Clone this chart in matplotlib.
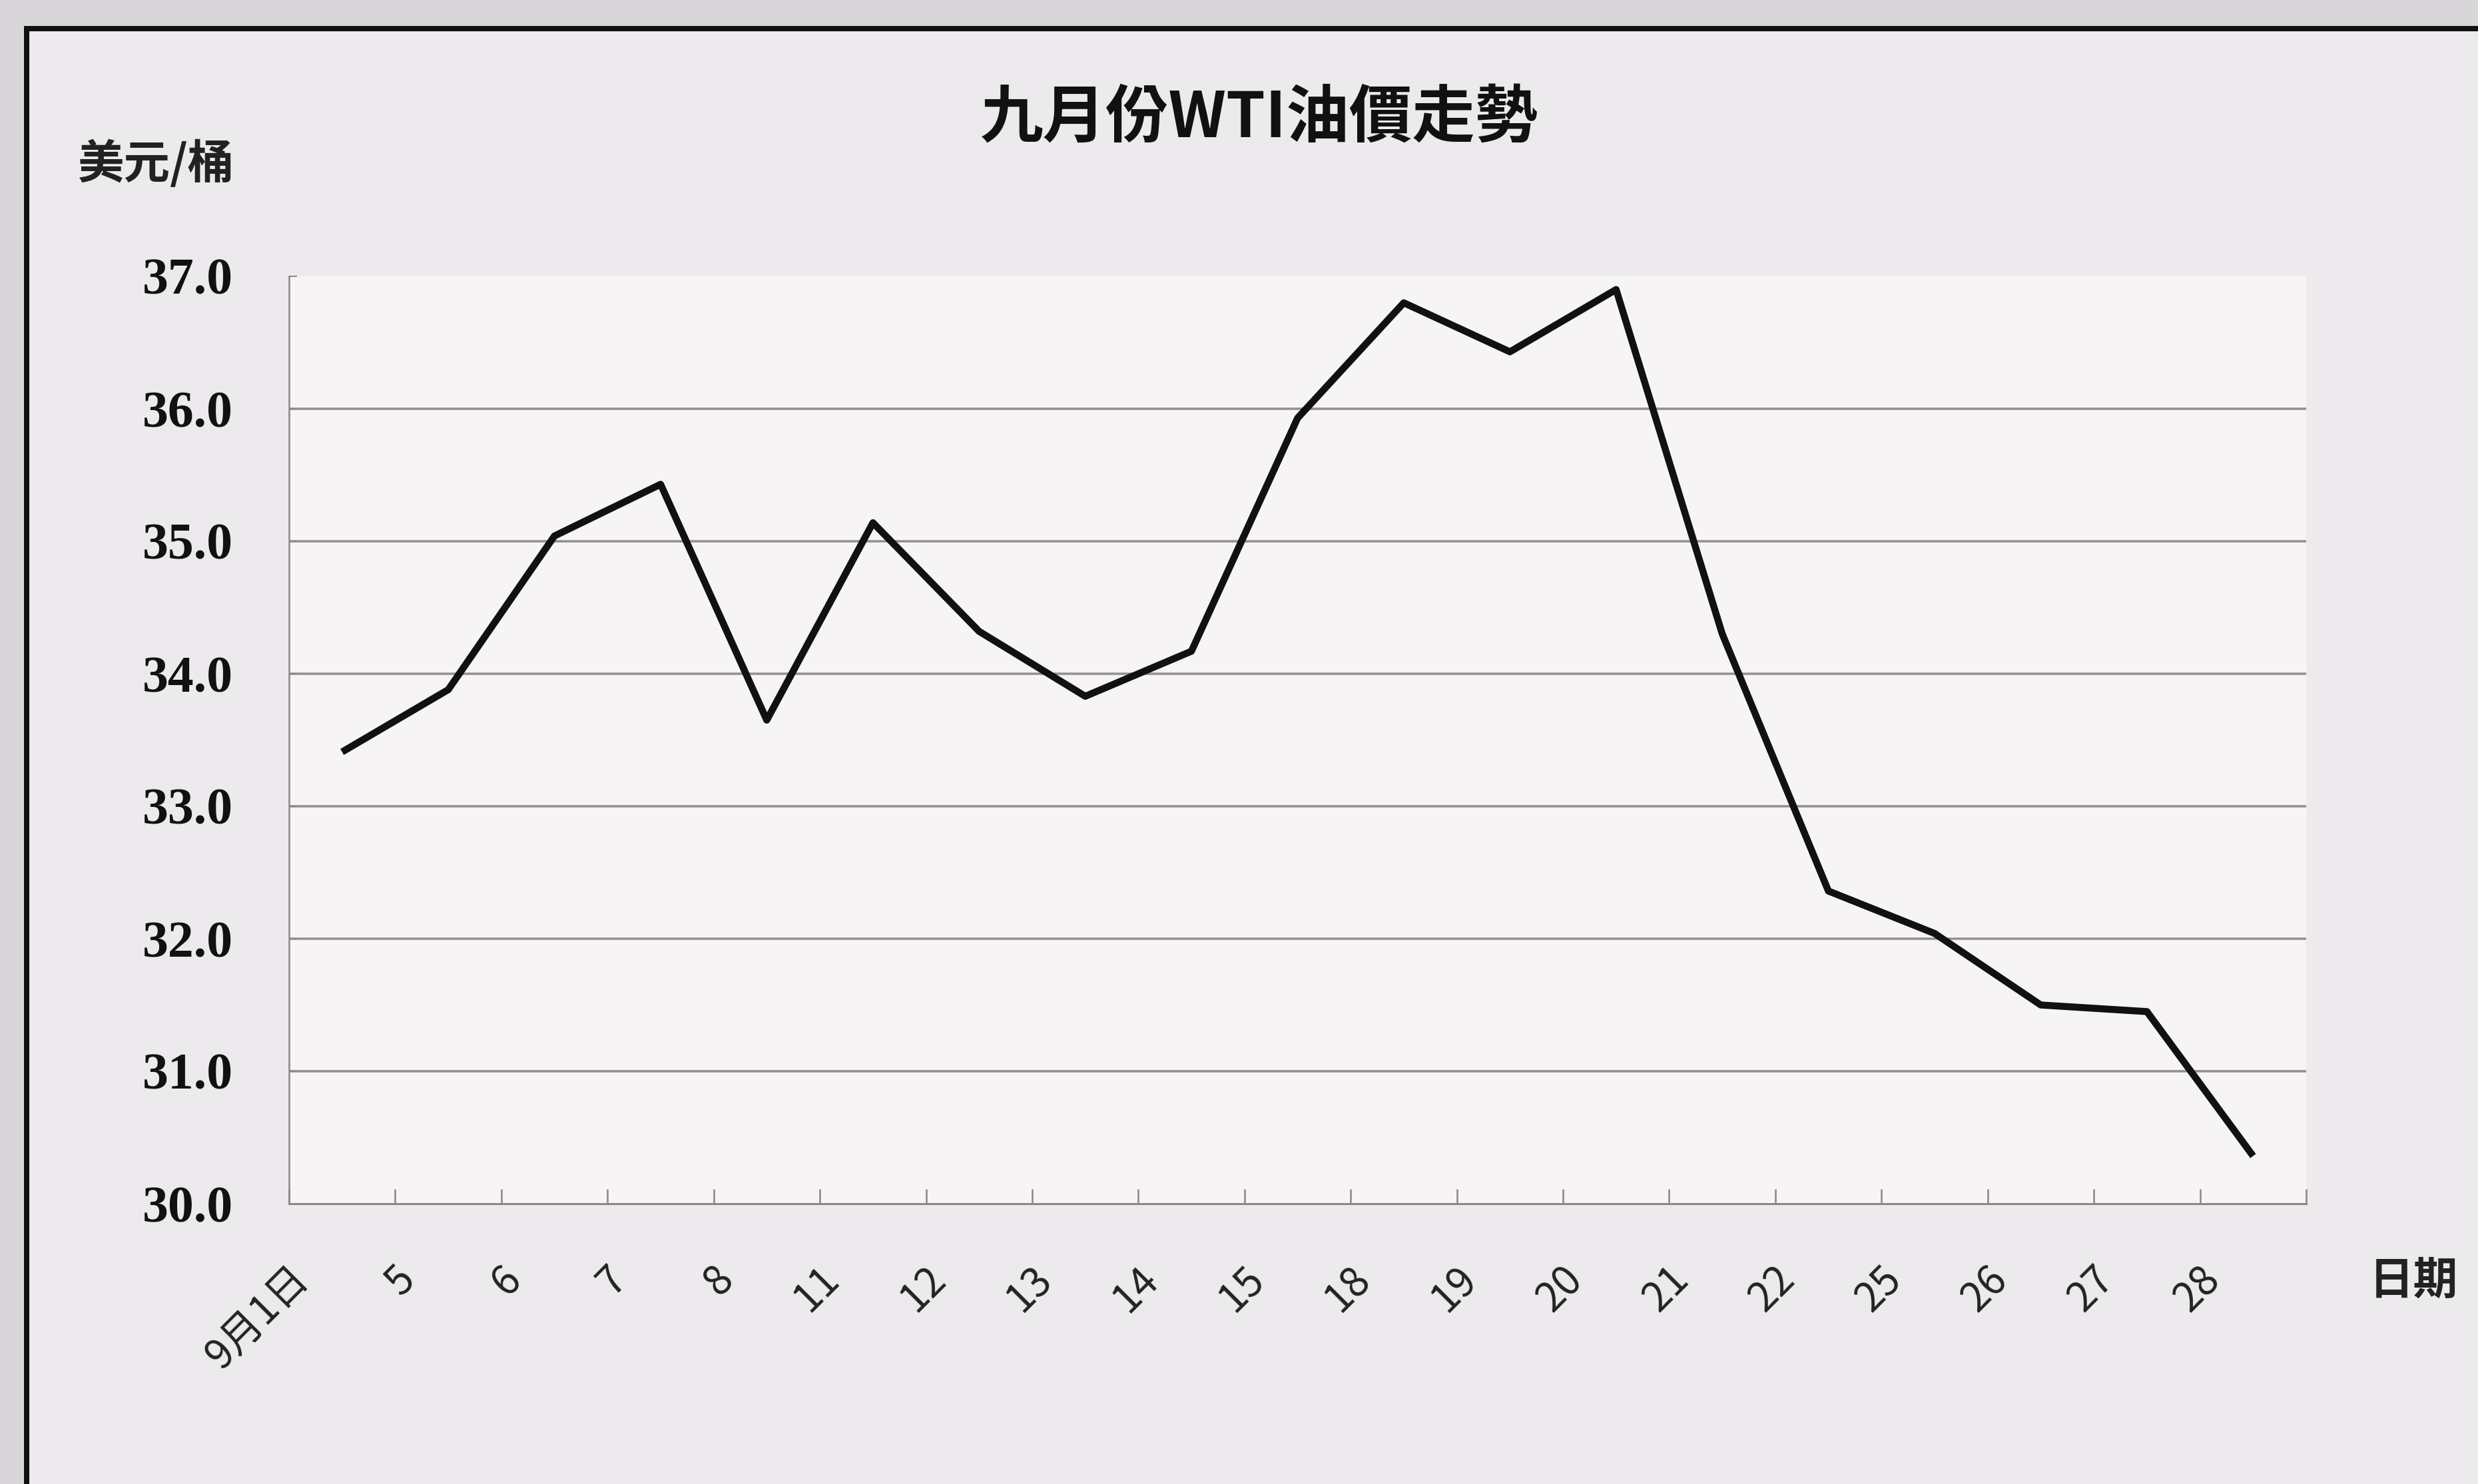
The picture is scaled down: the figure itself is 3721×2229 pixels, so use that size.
"""九月份WTI油價走勢 — line chart recreated from a scanned Excel figure."""

import matplotlib
matplotlib.use("Agg")
import matplotlib.pyplot as plt
import matplotlib.transforms as mtransforms
from matplotlib.patches import Rectangle

# ── data ──────────────────────────────────────────────────────────────────────
DATES = ["9月1日", "5", "6", "7", "8", "11", "12", "13", "14", "15",
         "18", "19", "20", "21", "22", "25", "26", "27", "28"]
PRICES = [33.41, 33.88, 35.04, 35.43, 33.65, 35.14, 34.32, 33.83, 34.17, 35.93,
          36.80, 36.43, 36.90, 34.30, 32.36, 32.04, 31.50, 31.45, 30.36]
Y_TICKS = [30, 31, 32, 33, 34, 35, 36, 37]

TITLE = "九月份WTI油價走勢"
Y_UNIT = "美元/桶"
X_UNIT = "日期"

# ── style ─────────────────────────────────────────────────────────────────────
C_OUTER = "#d8d6d9"
C_PAPER = "#eceaec"
C_PLOT  = "#f6f4f4"
C_AXIS  = "#8a8587"
C_GRID  = "#948e90"
C_INK   = "#111111"

CJK = ["Noto Sans CJK TC", "DejaVu Sans"]
SERIF = ["Liberation Serif", "DejaVu Serif"]

W, H, DPI = 3721, 2229, 100


def px(v):
    """pixels -> points at the output dpi"""
    return v * 72 / DPI


def main():
    fig = plt.figure(figsize=(W / DPI, H / DPI), dpi=DPI, facecolor=C_OUTER)

    # paper frame of the scanned chart (behind the axes)
    fig.patches.append(Rectangle((40 / W, -0.02), 1.0, 1 - 43 / H + 0.02,
                                 transform=fig.transFigure, facecolor=C_PAPER,
                                 edgecolor=C_INK, linewidth=px(8), zorder=-10))

    ax = fig.add_axes([434 / W, 1 - 1808 / H, (3463 - 434) / W, (1808 - 415) / H])
    ax.set_facecolor(C_PLOT)

    x = list(range(len(DATES)))
    ax.plot(x, PRICES, color=C_INK, linewidth=px(10.5), solid_joinstyle="round",
            solid_capstyle="butt", zorder=3)

    ax.set_xlim(-0.5, len(DATES) - 0.5)
    ax.set_ylim(Y_TICKS[0], Y_TICKS[-1])

    # y axis
    ax.set_yticks(Y_TICKS, [f"{v:.1f}" for v in Y_TICKS])
    ax.tick_params(axis="y", direction="in", length=px(12), width=px(2),
                   color=C_AXIS, pad=px(84))
    for lab in ax.get_yticklabels():
        lab.set_family(SERIF)
        lab.set_fontweight("bold")
        lab.set_fontsize(56)
        lab.set_color(C_INK)

    ax.grid(axis="y", color=C_GRID, linewidth=px(3.5), zorder=1)
    gl = ax.get_ygridlines()
    gl[0].set_visible(False)
    gl[-1].set_visible(False)

    # x axis: ticks between categories, labels rotated 45°
    ax.set_xticks(x, DATES, rotation=45, ha="right", va="center",
                  rotation_mode="anchor")
    ax.set_xticks([i - 0.5 for i in range(len(DATES) + 1)], minor=True)
    ax.tick_params(axis="x", which="major", length=0, pad=px(104))
    ax.tick_params(axis="x", which="minor", direction="in", length=px(22),
                   width=px(2.5), color=C_AXIS)
    shift = mtransforms.ScaledTranslation(-60 / DPI, 0, fig.dpi_scale_trans)
    for lab in ax.get_xticklabels():
        lab.set_family(CJK)
        lab.set_fontsize(44)
        lab.set_color("#222222")
        lab.set_transform(lab.get_transform() + shift)

    for side in ("top", "right"):
        ax.spines[side].set_visible(False)
    ax.spines["left"].set_color(C_AXIS)
    ax.spines["left"].set_linewidth(px(2.5))
    ax.spines["bottom"].set_color(C_AXIS)
    ax.spines["bottom"].set_linewidth(px(3))

    # texts
    fig.text(1891 / W, 1 - 178 / H, TITLE, ha="center", va="center",
             family=CJK, fontsize=68, fontweight="bold", color=C_INK)
    fig.text(235 / W, 1 - 247 / H, Y_UNIT, ha="center", va="center",
             family=CJK, fontsize=50, fontweight="bold", color="#222222")
    fig.text(3624 / W, 1 - 1924 / H, X_UNIT, ha="center", va="center",
             family=CJK, fontsize=48, fontweight="bold", color="#222222")

    fig.savefig("out.png", dpi=DPI, facecolor=fig.get_facecolor())


if __name__ == "__main__":
    main()
